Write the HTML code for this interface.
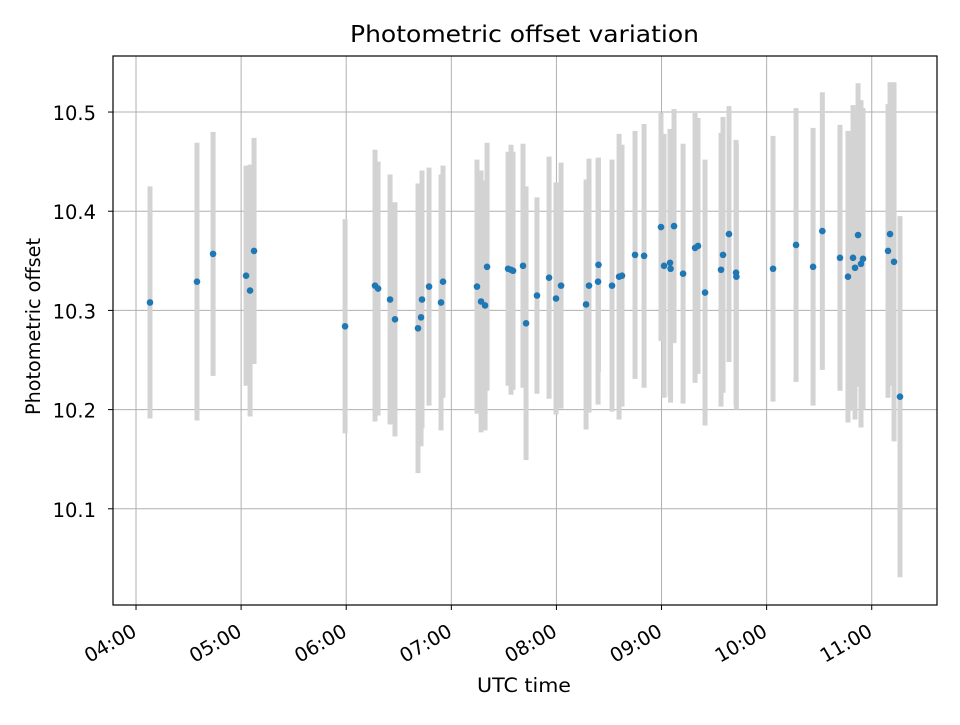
<!DOCTYPE html>
<html><head><meta charset="utf-8"><style>
html,body{margin:0;padding:0;background:#fff}
svg text{font-family:"DejaVu Sans","Liberation Sans",sans-serif;fill:#000}
</style></head><body>
<svg id="chart" width="960" height="720" xmlns="http://www.w3.org/2000/svg"></svg>
<script>
// Data: UTC time in decimal hours, photometric offset, error
const times = [4.133,4.580,4.733,5.047,5.085,5.123,5.989,6.274,6.303,6.417,6.464,6.683,6.712,6.721,6.788,6.902,6.921,7.244,7.283,7.321,7.340,7.540,7.568,7.587,7.682,7.711,7.815,7.930,7.996,8.044,8.282,8.310,8.396,8.400,8.529,8.596,8.624,8.748,8.834,8.995,9.024,9.081,9.086,9.119,9.205,9.319,9.347,9.414,9.566,9.585,9.642,9.709,9.712,10.061,10.280,10.442,10.530,10.698,10.774,10.822,10.841,10.870,10.898,10.917,11.155,11.174,11.212,11.269];
const offsets = [10.308,10.329,10.357,10.335,10.320,10.360,10.284,10.325,10.322,10.311,10.291,10.282,10.293,10.311,10.324,10.308,10.329,10.324,10.309,10.305,10.344,10.342,10.341,10.340,10.345,10.287,10.315,10.333,10.312,10.325,10.306,10.325,10.329,10.346,10.325,10.334,10.335,10.356,10.355,10.384,10.345,10.348,10.342,10.385,10.337,10.363,10.365,10.318,10.341,10.356,10.377,10.338,10.334,10.342,10.366,10.344,10.380,10.353,10.334,10.353,10.343,10.376,10.347,10.352,10.360,10.377,10.349,10.213];
const errors = [0.117,0.140,0.123,0.111,0.127,0.114,0.108,0.137,0.128,0.126,0.118,0.146,0.130,0.130,0.120,0.129,0.117,0.128,0.132,0.126,0.125,0.118,0.126,0.120,0.123,0.138,0.099,0.122,0.117,0.124,0.126,0.128,0.124,0.108,0.127,0.144,0.132,0.125,0.133,0.115,0.133,0.135,0.135,0.118,0.131,0.136,0.129,0.134,0.138,0.139,0.129,0.134,0.134,0.134,0.138,0.140,0.140,0.134,0.147,0.154,0.153,0.153,0.165,0.152,0.148,0.153,0.181,0.182];
const xTickHours = [4,5,6,7,8,9,10,11];
const xTickLabels = ["04:00","05:00","06:00","07:00","08:00","09:00","10:00","11:00"];
const yTicks = [10.1,10.2,10.3,10.4,10.5];
const yTickLabels = ["10.1","10.2","10.3","10.4","10.5"];

const L=113,R=937,T=56,B=605;
const xMin=3.781,xMax=11.621,yMin=10.003,yMax=10.5565;
const xs=h=>L+(h-xMin)/(xMax-xMin)*(R-L);
const ys=v=>B-(v-yMin)/(yMax-yMin)*(B-T);
const NS="http://www.w3.org/2000/svg";
const svg=document.getElementById('chart');
function mk(tag,attrs,parent){const e=document.createElementNS(NS,tag);for(const k in attrs)e.setAttribute(k,attrs[k]);(parent||svg).appendChild(e);return e;}

const grid=mk('g',{});


xTickHours.forEach((h,i)=>{
  const x=xs(h);
  const gl=mk('line',{x1:x,x2:x,y1:T,y2:B,stroke:'#b0b0b0','stroke-width':1},grid);
  
  
  const tk=mk('line',{x1:x,x2:x,y1:B,y2:B+5,stroke:'#000','stroke-width':1});
  
  
  const tx=x+2, ty=B+30;
  const t=mk('text',{x:tx,y:ty,'font-size':19.5,'text-anchor':'end',transform:`rotate(-30 ${tx} ${ty})`});
  t.textContent=xTickLabels[i];
  
  
});
yTicks.forEach((v,i)=>{
  const y=ys(v);
  const gl=mk('line',{x1:L,x2:R,y1:y,y2:y,stroke:'#b0b0b0','stroke-width':1},grid);
  
  
  const tk=mk('line',{x1:L-5,x2:L,y1:y,y2:y,stroke:'#000','stroke-width':1});
  
  
  const t=mk('text',{x:L-17,y:y+8,'font-size':19.5,'text-anchor':'end'});
  t.textContent=yTickLabels[i];
  
  
});

const bars=mk('g',{});


times.forEach((h,i)=>{
  const x=xs(h);
  const l=mk('line',{x1:x,x2:x,y1:ys(offsets[i]+errors[i]),y2:ys(offsets[i]-errors[i]),stroke:'#d3d3d3','stroke-width':5},bars);
  
  
});
const pts=mk('g',{});


times.forEach((h,i)=>{
  const c=mk('circle',{cx:xs(h),cy:ys(offsets[i]),r:3.3,fill:'#1f77b4'},pts);
  
  
});

const frame=mk('rect',{x:L,y:T,width:R-L,height:B-T,fill:'none',stroke:'#000','stroke-width':1.2});



const title=mk('text',{x:350,y:42,'font-size':23,textLength:349,lengthAdjust:'spacingAndGlyphs'});
title.textContent='Photometric offset variation';


const xl=mk('text',{x:477,y:692,'font-size':19.5,textLength:94,lengthAdjust:'spacingAndGlyphs'});
xl.textContent='UTC time';


const yl=mk('text',{x:0,y:0,'font-size':19.5,textLength:177,lengthAdjust:'spacingAndGlyphs',transform:'translate(40 415) rotate(-90)'});
yl.textContent='Photometric offset';


</script>
</body></html>
